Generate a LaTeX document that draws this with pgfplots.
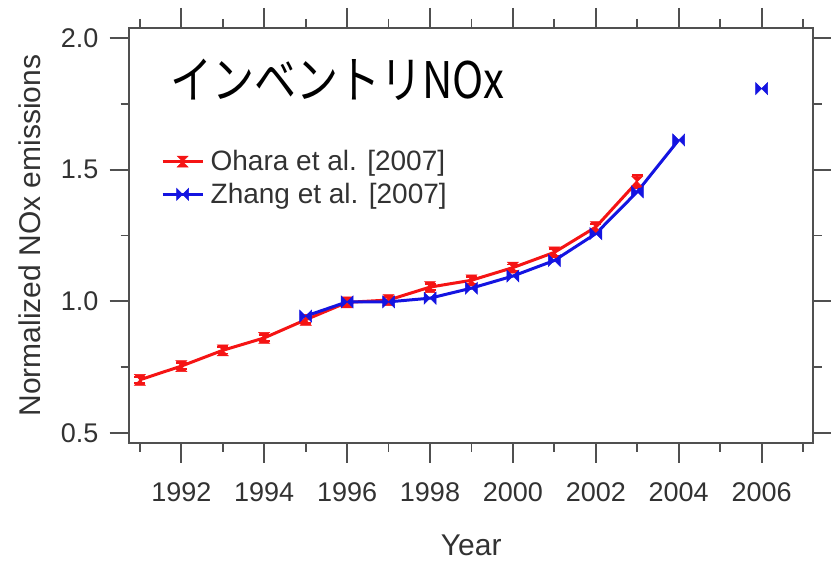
\documentclass[border=0pt]{standalone}
\usepackage{pgfplots}
\pgfplotsset{compat=1.18}
\usepackage{fontspec}
\setmainfont{Liberation Sans}
\newfontfamily\cjk{Noto Sans CJK JP}
\definecolor{myred}{RGB}{245,20,20}
\definecolor{myblue}{RGB}{20,20,225}
\definecolor{axgray}{RGB}{80,80,80}
\definecolor{txtgray}{RGB}{50,50,50}
\pgfdeclareplotmark{hourglass}{%
 \pgfpathmoveto{\pgfqpoint{-\pgfplotmarksize}{\pgfplotmarksize}}%
 \pgfpathlineto{\pgfqpoint{\pgfplotmarksize}{\pgfplotmarksize}}%
 \pgfpathlineto{\pgfqpoint{-\pgfplotmarksize}{-\pgfplotmarksize}}%
 \pgfpathlineto{\pgfqpoint{\pgfplotmarksize}{-\pgfplotmarksize}}%
 \pgfpathclose\pgfusepathqfillstroke}
\pgfdeclareplotmark{bowtie}{%
 \pgfpathmoveto{\pgfqpoint{-\pgfplotmarksize}{\pgfplotmarksize}}%
 \pgfpathlineto{\pgfqpoint{-\pgfplotmarksize}{-\pgfplotmarksize}}%
 \pgfpathlineto{\pgfqpoint{\pgfplotmarksize}{\pgfplotmarksize}}%
 \pgfpathlineto{\pgfqpoint{\pgfplotmarksize}{-\pgfplotmarksize}}%
 \pgfpathclose\pgfusepathqfillstroke}
\begin{document}
\begin{tikzpicture}
\useasboundingbox (0pt,0pt) rectangle (831pt,562pt);
\begin{axis}[
  scale only axis,
  width=683.5pt, height=415pt,
  at={(129.5pt,119pt)}, anchor=south west,
  xmin=1990.75, xmax=2007.24,
  ymin=0.462, ymax=2.038,
  xtick={1992,1994,1996,1998,2000,2002,2004,2006},
  xticklabels={1992,1994,1996,1998,2000,2002,2004,2006},
  minor xtick={1991,1993,1995,1997,1999,2001,2003,2005,2007},
  ytick={0.5,1.0,1.5,2.0},
  yticklabels={0.5,1.0,1.5,2.0},
  minor ytick={0.75,1.25,1.75},
  xtick pos=both, ytick pos=both,
  xticklabel pos=lower, yticklabel pos=left,
  tick align=outside,
  major tick length=20pt, minor tick length=9pt,
  every tick/.style={line width=1.8pt, axgray},
  axis line style={line width=2pt, axgray},
  /pgf/number format/assume math mode=true,
  tick label style={font=\fontsize{27}{30}\selectfont, text=txtgray},
  xticklabel style={anchor=center, yshift=-29pt},
  yticklabel style={anchor=center, xshift=-30pt},
  label style={font=\fontsize{30}{34}\selectfont, text=txtgray},
  xlabel={Year},
  ylabel={Normalized NOx emissions},
  xlabel style={at={(axis description cs:0.5,-0.2458)}, anchor=center},
  ylabel style={at={(axis description cs:-0.1460,0.5)}, anchor=center},
  legend style={draw=none, fill=none, at={(axis description cs:0.046,0.711)}, anchor=north west,
    font=\fontsize{28}{32}\selectfont, text=txtgray, inner sep=0pt, row sep=6pt,
    nodes={inner sep=2.5pt}},
  legend cell align=left,
  legend image code/.code={%
    \draw[#1, mark repeat=2, mark phase=2] plot coordinates {(0pt,0pt) (20pt,0pt) (40pt,0pt)};
    \path (44pt,0pt);},
  unbounded coords=jump,
  clip=false,
]
\addplot[myred, line width=3pt, mark=hourglass, mark size=5.5pt, mark options={solid, line width=0.5pt},
  error bars/.cd, y dir=both, y explicit, error mark=-, error mark options={myred, line width=1.8pt, mark size=5.5pt, rotate=90},
  error bar style={line width=1.8pt}]
  coordinates {
  (1991,0.702) +- (0,0.012)
  (1992,0.754) +- (0,0.012)
  (1993,0.814) +- (0,0.012)
  (1994,0.861) +- (0,0.012)
  (1995,0.930) +- (0,0.012)
  (1996,0.996) +- (0,0.012)
  (1997,1.005) +- (0,0.012)
  (1998,1.054) +- (0,0.012)
  (1999,1.080) +- (0,0.012)
  (2000,1.128) +- (0,0.012)
  (2001,1.186) +- (0,0.012)
  (2002,1.282) +- (0,0.012)
  (2003,1.454) +- (0,0.025)
  };
\addlegendentry{Ohara et al. [2007]}
\addplot[myblue, line width=3pt, mark=bowtie, mark size=6pt, mark options={solid, line width=0.5pt}]
  coordinates {
  (1995,0.944)
  (1996,0.998)
  (1997,0.998)
  (1998,1.012)
  (1999,1.050)
  (2000,1.096)
  (2001,1.155)
  (2002,1.257)
  (2003,1.416)
  (2004,1.613)
  (2005,nan)
  (2006,1.808)
  };
\addlegendentry{Zhang et al. [2007]}
\node[anchor=west, font=\cjk\fontsize{42}{46}\selectfont, inner sep=0pt] at (axis description cs:0.0593,0.8747) {\scalebox{1}[1.2]{インベントリNOx}};
\end{axis}
\end{tikzpicture}
\end{document}
